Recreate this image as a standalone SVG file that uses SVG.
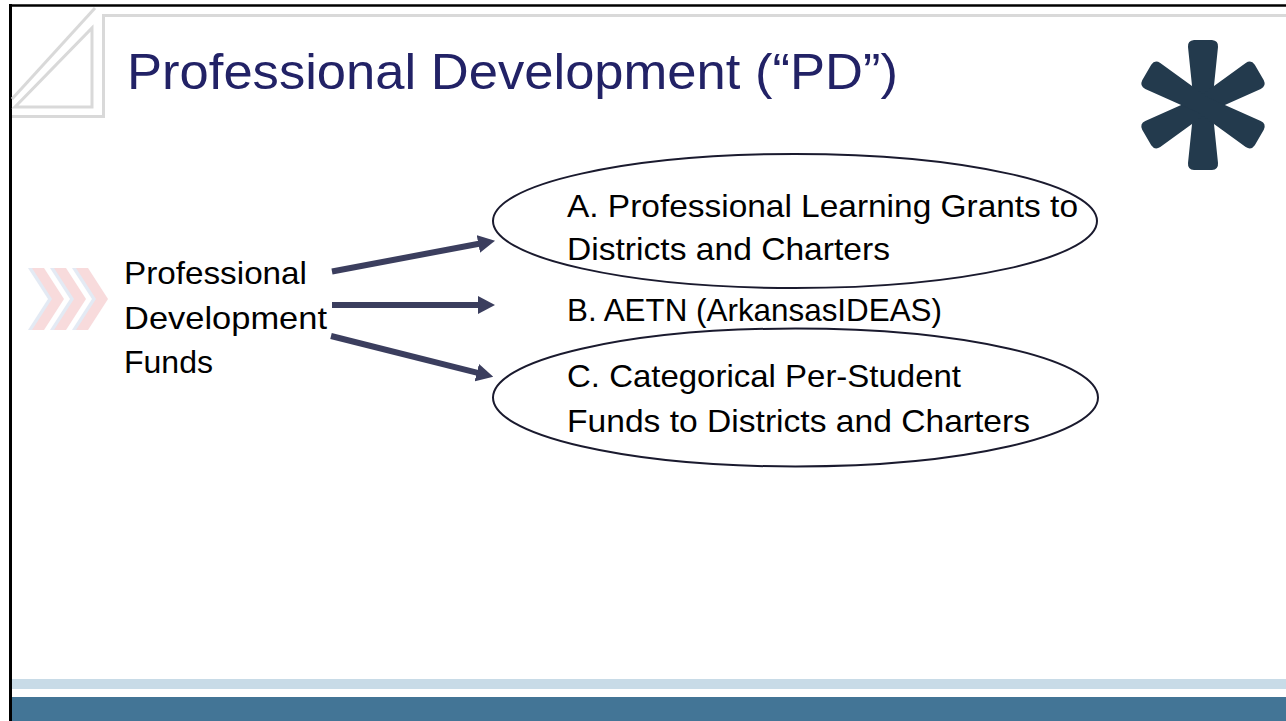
<svg xmlns="http://www.w3.org/2000/svg" width="1286" height="721" viewBox="0 0 1286 721">
  <style>
    .body { font-family: "Liberation Sans", Arial, sans-serif; font-size: 32px; fill: #000000; }
    .title { font-family: "Liberation Sans", Arial, sans-serif; font-size: 50px; fill: #222266; }
    .deco { fill: none; stroke: #d9d9d9; stroke-width: 3; }
    .oval { fill: none; stroke: #1a1a2e; stroke-width: 2; }
    .arrow { stroke: #3b3e5e; stroke-width: 6; fill: none; marker-end: url(#head); }
  </style>
  <defs>
    <marker id="head" markerUnits="userSpaceOnUse" markerWidth="17" markerHeight="18" refX="2" refY="9" orient="auto">
      <path d="M0,0 L17,9 L0,18 Z" fill="#3b3e5e"/>
    </marker>
  </defs>

  <rect x="0" y="0" width="1286" height="721" fill="#ffffff"/>

  <!-- frame -->
  <g id="frame">
    <line x1="10.5" y1="4" x2="10.5" y2="721" stroke="#000" stroke-width="3"/>
    <line x1="9" y1="5.5" x2="1286" y2="5.5" stroke="#000" stroke-width="2.5"/>
    <polyline class="deco" points="1286,15.5 103.5,15.5 103.5,116.5 12,116.5"/>
    <polygon class="deco" points="92,28 92,107 15,107"/>
    <line class="deco" x1="12" y1="99" x2="95" y2="8"/>
  </g>

  <!-- chevrons -->
  <g id="chevrons" opacity="0.5">
    <polygon points="28,268 40,268 60,299 40,330 28,330 48,299" fill="#c9d6ea"/>
    <polygon points="50,268 62,268 82,299 62,330 50,330 70,299" fill="#c9d6ea"/>
    <polygon points="72,268 84,268 104,299 84,330 72,330 92,299" fill="#c9d6ea"/>
    <polygon points="32,268 44,268 64,299 44,330 32,330 52,299" fill="#f2b8bb"/>
    <polygon points="54,268 66,268 86,299 66,330 54,330 74,299" fill="#f2b8bb"/>
    <polygon points="76,268 88,268 108,299 88,330 76,330 96,299" fill="#f2b8bb"/>
  </g>

  <!-- title -->
  <g id="title">
    <text class="title" x="127" y="89" textLength="771" lengthAdjust="spacingAndGlyphs">Professional Development (“PD”)</text>
  </g>

  <!-- asterisk -->
  <g id="asterisk" fill="#233a4d" transform="translate(1203,105)">
    <path d="M -9,0 L -15,-58 Q -15.5,-64.5 -9,-65 L 9,-65 Q 15.5,-64.5 15,-58 L 9,0 L 15,58 Q 15.5,64.5 9,65 L -9,65 Q -15.5,64.5 -15,58 Z"/>
    <path d="M -9,0 L -15,-58 Q -15.5,-64.5 -9,-65 L 9,-65 Q 15.5,-64.5 15,-58 L 9,0 L 15,58 Q 15.5,64.5 9,65 L -9,65 Q -15.5,64.5 -15,58 Z" transform="rotate(60)"/>
    <path d="M -9,0 L -15,-58 Q -15.5,-64.5 -9,-65 L 9,-65 Q 15.5,-64.5 15,-58 L 9,0 L 15,58 Q 15.5,64.5 9,65 L -9,65 Q -15.5,64.5 -15,58 Z" transform="rotate(120)"/>
  </g>

  <!-- source node -->
  <g id="node-source">
    <text class="body" x="124" y="284" textLength="183" lengthAdjust="spacingAndGlyphs">Professional</text>
    <text class="body" x="124" y="329" textLength="203" lengthAdjust="spacingAndGlyphs">Development</text>
    <text class="body" x="124" y="373" textLength="89" lengthAdjust="spacingAndGlyphs">Funds</text>
  </g>

  <!-- node A -->
  <g id="node-a">
    <ellipse class="oval" cx="795" cy="221" rx="302" ry="67"/>
    <text class="body" x="567" y="216.5" textLength="511" lengthAdjust="spacingAndGlyphs">A. Professional Learning Grants to</text>
    <text class="body" x="567" y="260" textLength="323" lengthAdjust="spacingAndGlyphs">Districts and Charters</text>
  </g>

  <!-- node B -->
  <g id="node-b">
    <text class="body" x="567" y="321" textLength="375" lengthAdjust="spacingAndGlyphs">B. AETN (ArkansasIDEAS)</text>
  </g>

  <!-- node C -->
  <g id="node-c">
    <ellipse class="oval" cx="795.5" cy="397.5" rx="302.5" ry="69"/>
    <text class="body" x="567" y="387" textLength="394" lengthAdjust="spacingAndGlyphs">C. Categorical Per-Student</text>
    <text class="body" x="567" y="431.5" textLength="463" lengthAdjust="spacingAndGlyphs">Funds to Districts and Charters</text>
  </g>

  <!-- connectors -->
  <g id="connectors">
    <line class="arrow" x1="332" y1="271.5" x2="480.3" y2="243.5"/>
    <line class="arrow" x1="332" y1="305" x2="480" y2="305"/>
    <line class="arrow" x1="331" y1="336" x2="478.7" y2="373.1"/>
  </g>

  <!-- footer bands -->
  <g id="footer">
    <rect x="12" y="679" width="1274" height="10" fill="#c8dbe7"/>
    <rect x="12" y="697" width="1274" height="24" fill="#437596"/>
  </g>
</svg>
